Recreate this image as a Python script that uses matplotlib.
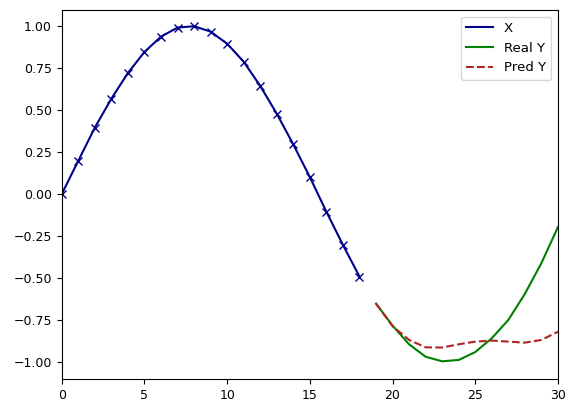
import matplotlib
matplotlib.use('Agg')
from matplotlib import pyplot as plt

# input window (markers) and the forecast window
x_steps = list(range(0, 19))
x_vals = [0.0, 0.198, 0.395, 0.567, 0.72, 0.845, 0.936, 0.99, 0.998, 0.966,
          0.894, 0.787, 0.643, 0.478, 0.295, 0.101, -0.105, -0.302, -0.49]

y_steps = list(range(19, 31))
real_y = [-0.651, -0.782, -0.893, -0.967, -0.994, -0.986, -0.939, -0.857,
          -0.748, -0.593, -0.41, -0.196]
pred_y = [-0.651, -0.785, -0.867, -0.911, -0.912, -0.893, -0.877, -0.871,
          -0.877, -0.883, -0.867, -0.818]

plt.rcParams['font.size'] = 9
fig = plt.figure(figsize=(5.77, 4.13), dpi=100)
ax = fig.add_axes([0.107, 0.082, 0.86, 0.894])

ax.plot(x_steps, x_vals, color='darkblue', label='X')
ax.plot(x_steps, x_vals, color='darkblue', marker='x', markersize=5.5, linestyle='none')
ax.plot(y_steps, real_y, color='green', label='Real Y')
ax.plot(y_steps, pred_y, color='firebrick', linestyle='--', label='Pred Y')
ax.set_xlim(0, 30)
ax.set_ylim(-1.1, 1.095)
ax.legend(loc='upper right', fontsize=9.6)

fig.savefig('out.png', dpi=100)
